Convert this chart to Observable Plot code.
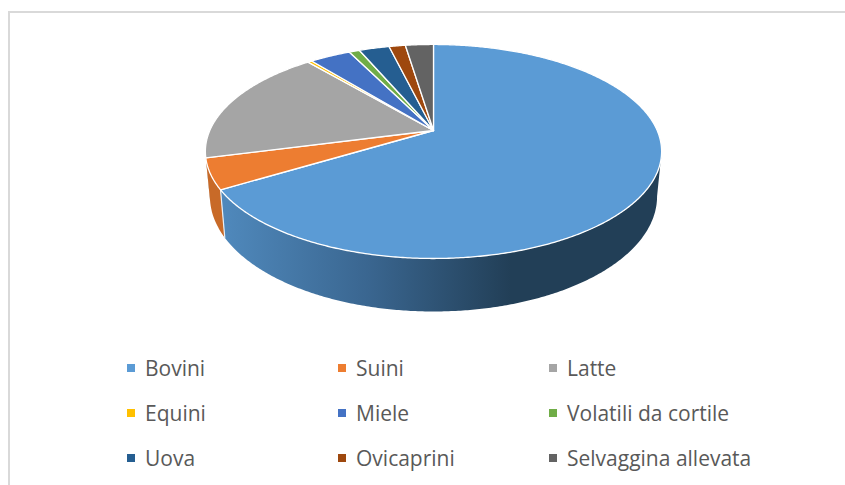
<!DOCTYPE html>
<html><head><meta charset="utf-8">
<script src="https://cdn.jsdelivr.net/npm/d3@7"></script>
<script src="https://cdn.jsdelivr.net/npm/@observablehq/plot@0.6"></script>
<style>
html,body{margin:0;padding:0;background:#fff;width:845px;height:485px;overflow:hidden}
#frame{position:absolute;left:8px;top:11px;right:0;bottom:0;border-left:2px solid #d9d9d9;border-top:2px solid #d9d9d9;pointer-events:none}
#chart svg{display:block}
#legend{display:grid;grid-template-columns:repeat(3,211px);grid-auto-rows:45px;padding-left:127px;font:21px "Open Sans",sans-serif;color:#595959}
#legend div{display:flex;align-items:center;white-space:nowrap}
#legend i{display:inline-block;width:8px;height:8px;margin-right:10px}
</style></head><body>
<div id="chart"></div><div id="legend"></div><div id="frame"></div>
<script>
const categories=["Bovini","Suini","Latte","Equini","Miele","Volatili da cortile","Uova","Ovicaprini","Selvaggina allevata"];
const shares=[66.3,4.6,17.9,0.35,3.5,0.9,2.6,1.4,2.4];
const colors=["#5B9BD5","#ED7D31","#A5A5A5","#FFC000","#4472C4","#70AD47","#255E91","#9E480E","#636363"];

// Geometry of the tilted disc
const W=845,H=345,apexX=433,apexY=130,unitX=223.7,unitY=102.9,persp=-0.196;
const rimCy=0.204,baseCy=0.641,baseSx=0.98,baseSy=1.075;
const visibleFrom=101.3,visibleTo=258.7;

const total=d3.sum(shares);
let acc=0;
const slices=categories.map((c,i)=>{const a0=acc;acc+=shares[i]/total*360;return{c,i,a0,a1:acc};});
function rimPoint(a){const t=a*Math.PI/180,u=Math.sin(t),v=-Math.cos(t),k=1+persp*v;return[u/k,v/k];}
function basePoint(a){const[x,y]=rimPoint(a);return[x*baseSx,baseCy+(y-rimCy)*baseSy];}
function arc(a0,a1,f){const n=Math.max(2,Math.ceil((a1-a0)*2)),o=[];for(let j=0;j<=n;j++)o.push(f(a0+(a1-a0)*j/n));return o;}

const facePts=[];
for(const s of slices){
  const r=[[0,0],...arc(s.a0,s.a1,rimPoint),[0,0]];
  r.forEach(p=>facePts.push({x:p[0],y:p[1],c:s.c}));
}
function wall(s){
  const a0=Math.max(s.a0,visibleFrom),a1=Math.min(s.a1,visibleTo);
  if(a1<=a0)return[];
  const ring=[...arc(a0,a1,rimPoint),...arc(a0,a1,basePoint).reverse()];
  return ring.concat([ring[0]]).map(p=>({x:p[0],y:p[1],c:s.c}));
}
const edge=[rimPoint(slices[1].a0),basePoint(slices[1].a0)].map(p=>({x:p[0],y:p[1]}));

const defs=()=>{
  const d=d3.create("svg:defs");
  const g=d.append("linearGradient").attr("id","wallB").attr("gradientUnits","userSpaceOnUse")
    .attr("x1",225).attr("x2",510).attr("y1",0).attr("y2",0);
  [[0,"#4F88BB"],[0.5,"#3A6690"],[1,"#223F57"]].forEach(([o,c])=>g.append("stop").attr("offset",o).attr("stop-color",c));
  return d.node();
};

const plot=Plot.plot({
  width:W,height:H,margin:0,
  x:{domain:[-apexX/unitX,(W-apexX)/unitX],range:[0,W],axis:null},
  y:{domain:[-apexY/unitY,(H-apexY)/unitY],range:[0,H],axis:null},
  color:{domain:categories,range:colors},
  style:{background:"transparent"},
  marks:[
    defs,
    Plot.line(wall(slices[2]),{x:"x",y:"y",fill:"#8A8A8A",stroke:"none"}),
    Plot.line(wall(slices[1]),{x:"x",y:"y",fill:"#C86A28",stroke:"none"}),
    Plot.line(wall(slices[0]),{x:"x",y:"y",fill:"url(#wallB)",stroke:"none"}),
    Plot.line(edge,{x:"x",y:"y",stroke:"#E8EEF3",strokeWidth:1.2}),
    Plot.line(facePts,{x:"x",y:"y",z:"c",fill:"c",stroke:"#fff",strokeWidth:1.3,strokeLinejoin:"round"})
  ]
});
document.getElementById("chart").append(plot);
const lg=document.getElementById("legend");
categories.forEach((c,i)=>{const e=document.createElement("div");const m=document.createElement("i");m.style.background=colors[i];e.append(m,c);lg.append(e);});
</script></body></html>
